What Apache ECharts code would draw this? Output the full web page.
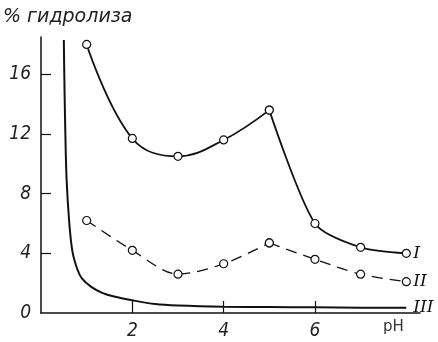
<!DOCTYPE html>
<html><head><meta charset="utf-8">
<script src="https://cdn.jsdelivr.net/npm/echarts@6/dist/echarts.min.js"></script>
<style>html,body{margin:0;padding:0;background:#fff}#c{width:438px;height:342px}</style>
</head><body><div id="c"></div>
<script>
const pH = [1, 2, 3, 4, 5, 6, 7, 8];
const curveI = [18.0, 11.7, 10.5, 11.6, 13.6, 6.0, 4.4, 4.0];
const curveII = [6.2, 4.2, 2.6, 3.3, 4.7, 3.6, 2.6, 2.1];
const curveIIIx = [0.5, 0.51, 0.53, 0.56, 0.62, 0.69, 0.8, 0.9, 1.1, 1.34, 1.6, 2, 2.5, 3, 4, 5, 6, 7, 8];
const curveIIIy = [18.3, 16, 12.5, 9, 6, 4.1, 2.9, 2.3, 1.75, 1.35, 1.1, 0.85, 0.6, 0.5, 0.42, 0.4, 0.38, 0.36, 0.35];
const xTicks = [2, 4, 6];
const yTicks = [0, 4, 8, 12, 16];
const seriesNames = ['I', 'II', 'III'];
const yTitle = '% гидролиза';
const xTitle = 'pH';

const pts = (xs, ys, a, b) => xs.slice(a, b).map((x, i) => [x, ys[a + i]]);
const marker = {symbol: 'circle', symbolSize: 8, itemStyle: {color: '#fff', borderColor: '#111', borderWidth: 1.2}};
const endLbl = (t) => ({show: true, formatter: t, fontFamily: 'DejaVu Serif', fontStyle: 'italic', fontSize: 17, color: '#111', distance: 7});

const chart = echarts.init(document.getElementById('c'));
const tickFont = {fontFamily: 'Liberation Sans Narrow, DejaVu Sans Condensed, sans-serif', fontStyle: 'italic', fontSize: 19, color: '#222'};
chart.setOption({
  animation: false,
  grid: {left: 41, right: 18, top: 37, bottom: 29},
  graphic: [
    {type: 'text', left: 3, top: 8, style: {text: yTitle, fontFamily: 'DejaVu Sans', fontStyle: 'italic', fontSize: 19, fill: '#222'}},
    {type: 'text', left: 383, top: 320, style: {text: xTitle, fontFamily: 'DejaVu Sans', fontSize: 15, fill: '#333'}}
  ],
  xAxis: {
    type: 'value', min: 0, max: 8.3,
    axisLine: {lineStyle: {color: '#111', width: 1.5}},
    axisTick: {inside: true, length: 12, customValues: xTicks, lineStyle: {color: '#111', width: 1.2}},
    axisLabel: Object.assign({customValues: xTicks, margin: 9}, tickFont),
    splitLine: {show: false}
  },
  yAxis: {
    type: 'value', min: 0, max: 18.5,
    axisLine: {show: true, lineStyle: {color: '#111', width: 1.5}},
    axisTick: {show: true, inside: true, length: 10, customValues: yTicks.slice(1), lineStyle: {color: '#111', width: 1.2}},
    axisLabel: Object.assign({customValues: yTicks, margin: 10}, tickFont),
    splitLine: {show: false}
  },
  series: [
    Object.assign({type: 'line', data: pts(pH, curveI, 0, 5), smooth: 0.4, lineStyle: {color: '#111', width: 1.8}}, marker),
    Object.assign({type: 'line', data: pts(pH, curveI, 4, 8), smooth: 0.25, lineStyle: {color: '#111', width: 1.8}, endLabel: endLbl(seriesNames[0])}, marker),
    Object.assign({type: 'line', data: pts(pH, curveII, 0, 5), smooth: 0.3, lineStyle: {color: '#111', width: 1.3, type: [11, 7]}}, marker),
    Object.assign({type: 'line', data: pts(pH, curveII, 4, 8), smooth: 0.3, lineStyle: {color: '#111', width: 1.3, type: [11, 7]}, endLabel: endLbl(seriesNames[1])}, marker),
    {type: 'line', data: pts(curveIIIx, curveIIIy, 0, curveIIIx.length), smooth: 0.3, showSymbol: false, lineStyle: {color: '#111', width: 2}, endLabel: endLbl(seriesNames[2])}
  ]
});
</script></body></html>
